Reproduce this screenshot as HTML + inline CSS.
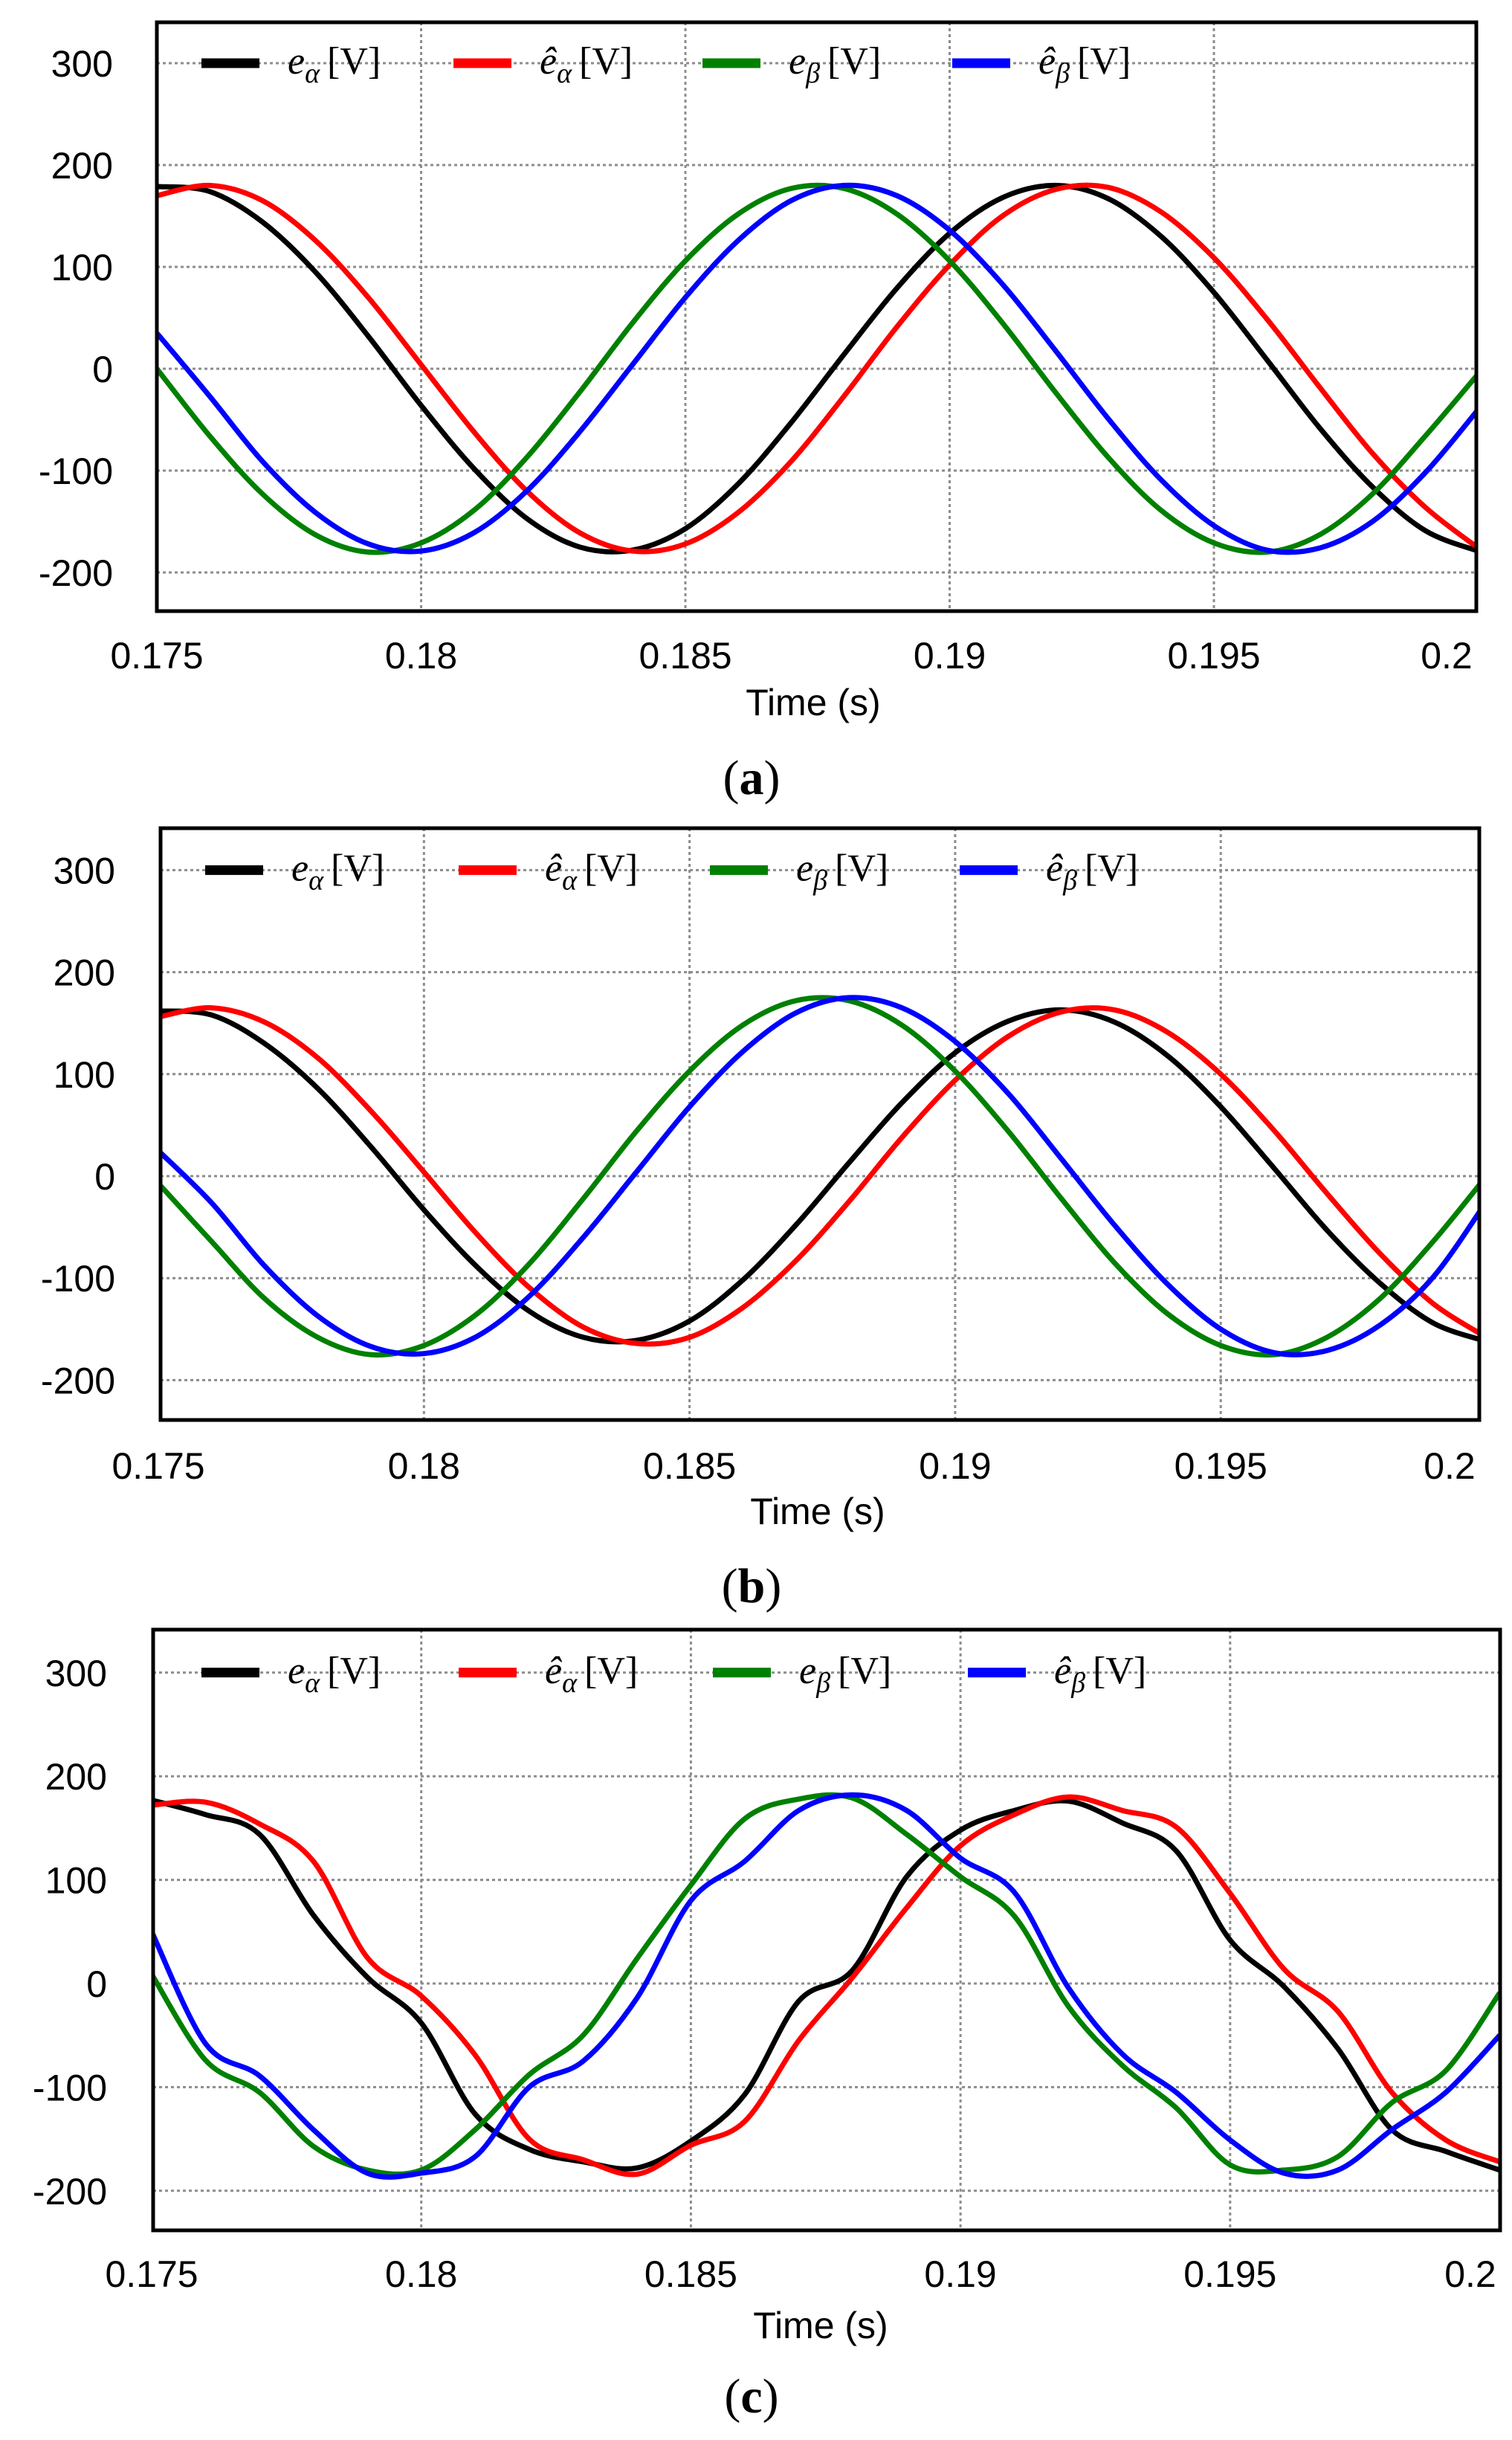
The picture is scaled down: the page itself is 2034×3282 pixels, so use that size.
<!DOCTYPE html>
<html><head><meta charset="utf-8"><style>
html,body{margin:0;padding:0;background:#fff;}
svg{display:block;}
.tick{font-family:"Liberation Sans",Arial,sans-serif;font-size:50px;fill:#000;}
.leg{font-family:"Liberation Serif","Times New Roman",serif;font-size:52px;fill:#000;}
.cap{font-family:"Liberation Serif","Times New Roman",serif;font-size:66px;fill:#000;}
</style></head><body>
<svg id="fig" width="2034" height="3282" viewBox="0 0 2034 3282" xmlns="http://www.w3.org/2000/svg"></svg>
<script>
// time samples (s)
const times = [0.175,0.176,0.177,0.178,0.179,0.180,0.181,0.182,0.183,0.184,0.185,0.186,0.187,0.188,0.189,0.190,0.191,0.192,0.193,0.194,0.195,0.196,0.197,0.198,0.199,0.200];
const xTicks = [0.175,0.18,0.185,0.19,0.195,0.2];
const xTickLabels = ["0.175","0.18","0.185","0.19","0.195","0.2"];
const yTicks = [300,200,100,0,-100,-200];
const yTickLabels = ["300","200","100","0","-100","-200"];
const seriesNames = ["e_alpha","e_alpha_hat","e_beta","e_beta_hat"];
// panel (a)
const aEAlpha = [179,174,144,95,32,-36,-98,-147,-175,-178,-157,-113,-53,14,79,133,168,180,167,130,75,9,-58,-116,-159,-179];
const aEAlphaHat = [170,180,165,126,70,4,-62,-120,-161,-179,-172,-141,-91,-27,41,102,150,176,178,154,109,49,-18,-83,-136,-176];
const aEBeta = [0,-66,-123,-163,-180,-171,-139,-87,-23,45,106,152,177,177,152,106,45,-23,-87,-139,-171,-180,-163,-123,-66,-5];
const aEBetaHat = [35,-27,-91,-141,-172,-179,-161,-120,-62,4,70,126,165,180,170,136,83,18,-49,-109,-154,-178,-176,-150,-102,-40];
// panel (b)
const bEAlpha = [162,158,130,86,29,-33,-89,-133,-158,-161,-142,-102,-48,13,72,121,152,163,151,118,68,8,-53,-105,-144,-162];
const bEAlphaHat = [156,165,151,116,64,4,-57,-110,-148,-164,-158,-129,-83,-25,38,94,137,161,163,141,100,45,-17,-76,-125,-158];
const bEBeta = [-7,-64,-120,-158,-175,-166,-135,-85,-22,44,103,148,172,172,148,103,44,-22,-85,-135,-166,-175,-158,-120,-64,0];
const bEBetaHat = [25,-26,-88,-137,-167,-174,-157,-117,-60,4,68,122,160,175,165,132,81,17,-48,-106,-150,-173,-171,-146,-99,-25];
// panel (c)
const cEAlpha = [177,163,144,66,6,-38,-126,-160,-172,-178,-152,-107,-17,13,103,148,167,176,155,128,42,-3,-63,-141,-162,-180];
const cEAlphaHat = [172,175,154,118,25,-12,-69,-150,-170,-184,-156,-133,-55,6,73,133,163,180,167,151,87,14,-27,-105,-151,-172];
const cEBeta = [9,-74,-105,-157,-180,-180,-141,-88,-50,24,95,159,178,179,144,103,65,-22,-79,-120,-175,-180,-167,-115,-84,-9];
const cEBetaHat = [50,-58,-89,-141,-183,-183,-167,-100,-75,-14,80,118,167,182,167,121,88,-4,-68,-105,-151,-183,-180,-141,-105,-50];

const colors = ["#000000","#ff0000","#008000","#0000ff"];
const NS = "http://www.w3.org/2000/svg";
const fig = document.getElementById("fig");
function mk(tag, attrs, parent){
  const el = document.createElementNS(NS, tag);
  for (const k in attrs) el.setAttribute(k, attrs[k]);
  (parent||fig).appendChild(el);
  return el;
}
const panels = [
  {id:"a", L:211, R:1986, T:30, B:822, x0:211, px:355.5, y0:496, py:1.37, ylabX:152, xlabY:881, timeX:1094, timeY:944, capY:1046, legX:[271,610,945,1281], data:[aEAlpha,aEAlphaHat,aEBeta,aEBetaHat]},
  {id:"b", L:216, R:1990, T:1114, B:1910, x0:213, px:357.3, y0:1582, py:1.372, ylabX:155, xlabY:1971, timeX:1100, timeY:2032, capY:2133, legX:[276,617,955,1291], data:[bEAlpha,bEAlphaHat,bEBeta,bEBetaHat]},
  {id:"c", L:206, R:2018, T:2192, B:3000, x0:204, px:362.7, y0:2668, py:1.394, ylabX:144, xlabY:3058, timeX:1104, timeY:3127, capY:3223, legX:[271,617,959,1302], data:[cEAlpha,cEAlphaHat,cEBeta,cEBetaHat]}
];
function catmull(pts){
  let d = "M"+pts[0][0].toFixed(1)+","+pts[0][1].toFixed(1);
  for (let i=0;i<pts.length-1;i++){
    const p0=pts[Math.max(0,i-1)], p1=pts[i], p2=pts[i+1], p3=pts[Math.min(pts.length-1,i+2)];
    const c1x=p1[0]+(p2[0]-p0[0])/6, c1y=p1[1]+(p2[1]-p0[1])/6;
    const c2x=p2[0]-(p3[0]-p1[0])/6, c2y=p2[1]-(p3[1]-p1[1])/6;
    d += " C"+c1x.toFixed(1)+","+c1y.toFixed(1)+" "+c2x.toFixed(1)+","+c2y.toFixed(1)+" "+p2[0].toFixed(1)+","+p2[1].toFixed(1);
  }
  return d;
}
panels.forEach(p=>{
  const xs = t => p.x0 + (t-0.175)/0.005*p.px;
  const ys = v => p.y0 - v*p.py;
  const g = mk("g",{});
  
  
  const clipId = "clip"+p.id;
  const cp = mk("clipPath",{id:clipId}, g);
  mk("rect",{x:p.L,y:p.T,width:p.R-p.L,height:p.B-p.T}, cp);
  yTicks.forEach((v,i)=>{
    const ln = mk("line",{x1:p.L,x2:p.R,y1:ys(v),y2:ys(v),stroke:"#8c8c8c","stroke-width":3,"stroke-dasharray":"4,4"}, g);
    
    
    const tx = mk("text",{x:p.ylabX,y:ys(v)+18,"text-anchor":"end",class:"tick"}, g);
    tx.textContent = yTickLabels[i];
    
    
  });
  xTicks.forEach((t,i)=>{
    const x = xs(t);
    if (x>p.L+5 && x<p.R-5){
      const ln = mk("line",{x1:x,x2:x,y1:p.T,y2:p.B,stroke:"#8c8c8c","stroke-width":3,"stroke-dasharray":"4,4"}, g);
      
      
    }
    const tx = mk("text",{x:i===5?Math.min(x,p.R-40):x,y:p.xlabY+18,"text-anchor":"middle",class:"tick"}, g);
    tx.textContent = xTickLabels[i];
    
    
  });
  p.data.forEach((arr,si)=>{
    const pts = arr.map((v,i)=>[xs(times[i]), ys(v)]);
    const path = mk("path",{d:catmull(pts),fill:"none",stroke:colors[si],"stroke-width":7,"stroke-linejoin":"round","clip-path":"url(#"+clipId+")"}, g);
    
    
  });
  const legY = ys(300);
  const subs = ["α","α","β","β"];
  const hats = [false,true,false,true];
  p.legX.forEach((lx,si)=>{
    const lg = mk("g",{}, g);
    
    
    mk("line",{x1:lx,x2:lx+78,y1:legY,y2:legY,stroke:colors[si],"stroke-width":13}, lg);
    const tx = mk("text",{x:lx+116,y:legY+14,class:"leg"}, lg);
    const e = mk("tspan",{"font-style":"italic"}, tx);
    e.textContent = hats[si] ? "ê" : "e";
    const s = mk("tspan",{"font-style":"italic","font-size":"38px",dy:12}, tx);
    s.textContent = subs[si];
    const v = mk("tspan",{dy:-12,dx:10}, tx);
    v.textContent = "[V]";
  });
  const fr = mk("rect",{x:p.L,y:p.T,width:p.R-p.L,height:p.B-p.T,fill:"none",stroke:"#000","stroke-width":5}, g);
  
  
  const tt = mk("text",{x:p.timeX,y:p.timeY+18,"text-anchor":"middle",class:"tick"}, g);
  tt.textContent = "Time (s)";
  
  
  const cap = mk("text",{x:1011,y:p.capY+22,"text-anchor":"middle",class:"cap"}, g);
  cap.innerHTML = '(<tspan font-weight="bold">'+p.id+'</tspan>)';
  
  
});
</script>
</body></html>
